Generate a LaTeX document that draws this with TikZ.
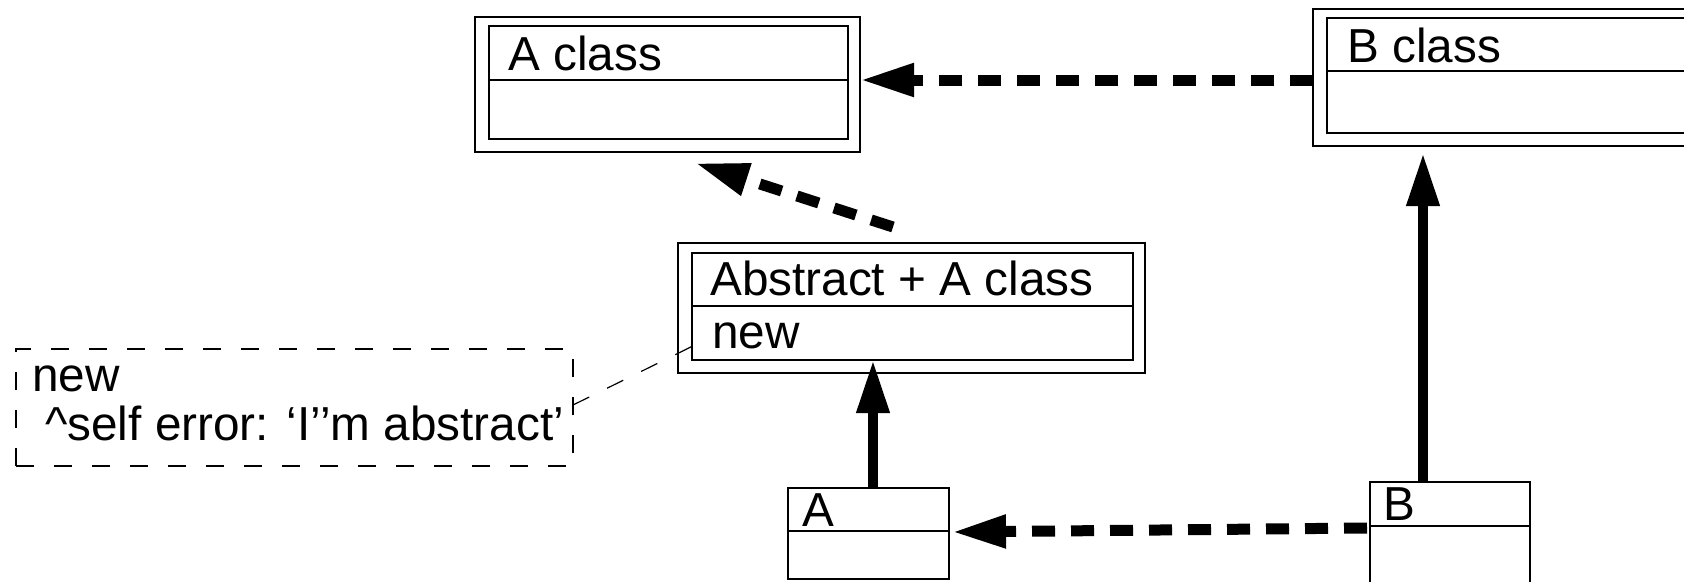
\documentclass[tikz,border=0pt]{standalone}
\usepackage{fontspec}
\setmainfont{Liberation Sans}
\usetikzlibrary{arrows.meta}
\begin{document}
\begin{tikzpicture}[x=1pt,y=-1pt,
  boxline/.style={draw=black, line width=1.6pt, inner sep=0pt, outer sep=0pt, anchor=north west},
  divider/.style={line width=1.6pt},
  lbl/.style={inner sep=0pt, anchor=base west, font=\fontsize{47.7}{49}\selectfont},
  dasharrow/.style={line width=11pt, dash pattern=on 23pt off 16pt, -{Triangle[length=54pt,width=31pt]}},
  solidarrow/.style={line width=10pt, -{Triangle[length=53pt,width=31pt]}},
  notebox/.style={draw=black, line width=1.4pt, dash pattern=on 18pt off 20pt, inner sep=0pt, outer sep=0pt, anchor=north west},
  noteline/.style={line width=1.2pt, dash pattern=on 18pt off 20pt}
]
\clip (0,0) rectangle (1684,581);
\fill[white] (0,0) rectangle (1684,581);
% A class
\node[boxline, minimum width=385pt, minimum height=135pt] (aclassout) at (475,17) {};
\node[boxline, minimum width=359pt, minimum height=113pt] (aclassin) at (489,26) {};
\draw[divider] ([yshift=-54pt]aclassin.north west) -- ([yshift=-54pt]aclassin.north east);
\node[lbl] (aclasstxt) at (508,70) {A class};
% B class
\node[boxline, minimum width=420pt, minimum height=137pt] (bclassout) at (1313,9) {};
\node[boxline, minimum width=400pt, minimum height=115pt] (bclassin) at (1327,18) {};
\draw[divider] ([yshift=-53pt]bclassin.north west) -- ([yshift=-53pt]bclassin.north east);
\node[lbl] (bclasstxt) at (1347,62) {B class};
% Abstract + A class
\node[boxline, minimum width=467pt, minimum height=130pt] (abstractout) at (678,243) {};
\node[boxline, minimum width=441pt, minimum height=107pt] (abstractin) at (692,253) {};
\draw[divider] ([yshift=-53pt]abstractin.north west) -- ([yshift=-53pt]abstractin.north east);
\node[lbl] (abtxt) at (710,295) {Abstract + A class};
\node[lbl] (abnew) at (712,348) {new};
% A
\node[boxline, minimum width=161pt, minimum height=91pt] (aobj) at (788,488) {};
\draw[divider] ([yshift=-43pt]aobj.north west) -- ([yshift=-43pt]aobj.north east);
\node[lbl] (atxt) at (802,526) {A};
% B
\node[boxline, minimum width=160pt, minimum height=108pt] (bobj) at (1370,482) {};
\draw[divider] ([yshift=-44pt]bobj.north west) -- ([yshift=-44pt]bobj.north east);
\node[lbl] (btxt) at (1383,520) {B};
% note
\node[notebox, minimum width=557pt, minimum height=117pt] (note) at (16,349) {};
\node[lbl] (note1) at (32,391) {new};
\node[lbl] (note2) at (45,440) {\textasciicircum self error: ‘I’’m abstract’};
% connectors
\draw[dasharrow] ([yshift=-2.5pt]bclassout.west) -- ([yshift=4.5pt]aclassout.east);
\draw[dasharrow] ([xshift=-3pt,yshift=8pt]bobj.west) -- ([xshift=3pt,yshift=1.5pt]aobj.east);
\draw[dasharrow] ([xshift=-18.5pt,yshift=16pt]abstractout.north) -- ([xshift=27.5pt,yshift=-11pt]aclassout.south);
\coordinate (abase) at ([xshift=4.5pt]aobj.north);
\draw[solidarrow] (abase) -- (abase |- abstractin.south);
\coordinate (bbase) at ([xshift=-27pt]bobj.north);
\draw[solidarrow, shorten >=7pt] (bbase) -- (bbase |- bclassout.south);
\draw[noteline] ([yshift=2.5pt]note.east) -- ([xshift=-9pt,yshift=7pt]abnew.base west);
\end{tikzpicture}
\end{document}
